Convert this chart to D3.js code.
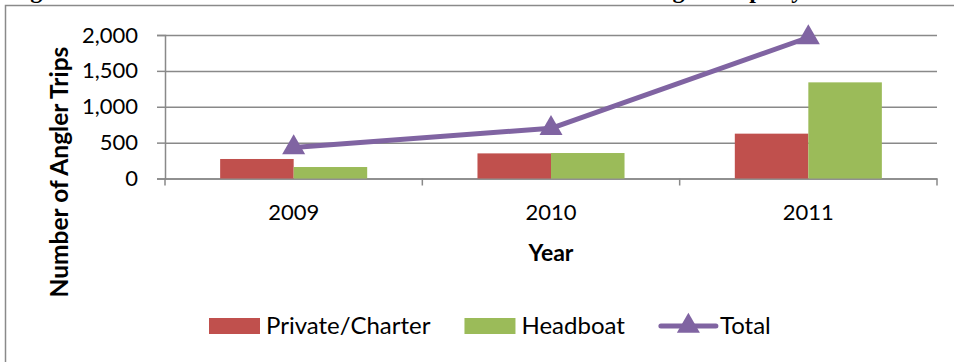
<!DOCTYPE html>
<html>
<head>
<meta charset="utf-8">
<script src="https://cdn.jsdelivr.net/npm/d3@7/dist/d3.min.js"></script>
<style>
    body { margin: 0; background: #ffffff; }
    svg { display: block; }
</style>
</head>
<body>
<script>
    // values
    var years = ["2009", "2010", "2011"];
    var privateCharter = [272, 350, 625];
    var headboat = [160, 355, 1340];
    var total = [432, 700, 1965];
    var seriesNames = ["Private/Charter", "Headboat", "Total"];
    var yTicks = [0, 500, 1000, 1500, 2000];

    var width = 954, height = 362;
    var margin = {"top": 35, "bottom": 183.5, "left": 165, "right": 17};
    var colors = {"Private/Charter": "#C0504D", "Headboat": "#9BBB59", "Total": "#8064A2"};
    var gridColor = "#898989";
    var font = "Lato, 'Open Sans', sans-serif";

    var svg = d3.select("body")
        .append("svg")
        .attr("width", width)
        .attr("height", height);

    // caption line cut off at the top of the picture
    svg.append("text")
        .attr("x", 9)
        .attr("y", -2)
        .text("Figure 4. Estimated Number of Headboat and Charter Sector Angler Trips by Mode")
        .style("font-family", "'Liberation Serif', 'Times New Roman', serif")
        .style("font-weight", "bold")
        .style("font-size", "24px");

    // chart frame
    svg.append("rect")
        .attr("x", 5.5)
        .attr("y", 5.5)
        .attr("width", width + 20)
        .attr("height", height + 20)
        .attr("fill", "none")
        .attr("stroke", "#8a8a8a")
        .attr("stroke-width", 1.5);

    var xScale = d3.scaleBand()
        .domain(years)
        .range([margin.left, width - margin.right]);

    var subScale = d3.scaleBand()
        .domain(["Private/Charter", "Headboat"])
        .range([0, xScale.bandwidth()])
        .paddingOuter(0.75);

    var yScale = d3.scaleLinear()
        .domain([0, 2000])
        .range([height - margin.bottom, margin.top]);

    //gridlines
    var grid = svg.append("g")
        .attr("transform", "translate(" + margin.left + ",0)")
        .call(d3.axisLeft(yScale).tickValues(yTicks).tickSize(-(width - margin.left - margin.right)).tickFormat(""));
    grid.select(".domain").remove();
    grid.selectAll("line")
        .attr("stroke", gridColor)
        .attr("stroke-width", 1.5);

    //y axis
    var yAxis = svg.append("g")
        .attr("transform", "translate(" + margin.left + ",0)")
        .call(d3.axisLeft(yScale).tickValues(yTicks).tickSize(8).tickPadding(19).tickFormat(d3.format(",")));
    yAxis.select(".domain")
        .attr("stroke", gridColor)
        .attr("stroke-width", 1.5);
    yAxis.selectAll("line")
        .attr("stroke", gridColor)
        .attr("stroke-width", 1.5);
    yAxis.selectAll("text")
        .style("font-family", font)
        .style("font-size", "22px")
        .attr("fill", "#000");

    //x axis
    var xAxis = svg.append("g")
        .attr("transform", "translate(0," + yScale(0) + ")")
        .call(d3.axisBottom(xScale).tickSize(0).tickPadding(26));
    xAxis.select(".domain")
        .attr("stroke", gridColor)
        .attr("stroke-width", 1.5);
    xAxis.selectAll("text")
        .style("font-family", font)
        .style("font-size", "22px")
        .attr("fill", "#000");

    var bounds = years.map(d => xScale(d)).concat([xScale.range()[1]]);
    svg.append("g")
        .selectAll("line")
        .data(bounds)
        .enter()
        .append("line")
        .attr("x1", d => d)
        .attr("x2", d => d)
        .attr("y1", yScale(0))
        .attr("y2", yScale(0) + 7)
        .attr("stroke", gridColor)
        .attr("stroke-width", 1.5);

    //bars
    var barData = [];
    years.forEach(function(y, i) {
        barData.push({"year": y, "key": "Private/Charter", "value": privateCharter[i]});
        barData.push({"year": y, "key": "Headboat", "value": headboat[i]});
    });

    svg.append("g")
        .selectAll("rect")
        .data(barData)
        .enter()
        .append("rect")
        .attr("x", d => xScale(d.year) + subScale(d.key))
        .attr("y", d => yScale(d.value))
        .attr("width", subScale.bandwidth())
        .attr("height", d => yScale(0) - yScale(d.value))
        .attr("fill", d => colors[d.key]);

    //total line
    var line = d3.line()
        .x((d, i) => xScale(years[i]) + xScale.bandwidth() / 2)
        .y(d => yScale(d));

    svg.append("path")
        .datum(total)
        .attr("d", line)
        .attr("fill", "none")
        .attr("stroke", colors["Total"])
        .attr("stroke-width", 5)
        .attr("stroke-linejoin", "round");

    var tri = d3.symbol().type(d3.symbolTriangle).size(230);
    svg.append("g")
        .selectAll("path")
        .data(total)
        .enter()
        .append("path")
        .attr("d", tri)
        .attr("transform", (d, i) => "translate(" + (xScale(years[i]) + xScale.bandwidth() / 2) + "," + yScale(d) + ")")
        .attr("fill", colors["Total"]);

    //axis titles
    svg.append("text")
        .attr("transform", "translate(68,172) rotate(-90)")
        .attr("text-anchor", "middle")
        .text("Number of Angler Trips")
        .style("font-family", font)
        .style("font-weight", "bold")
        .style("font-size", "24.5px");

    svg.append("text")
        .attr("x", (margin.left + width - margin.right) / 2)
        .attr("y", 261)
        .attr("text-anchor", "middle")
        .text("Year")
        .style("font-family", font)
        .style("font-weight", "bold")
        .style("font-size", "23px");

    //legend
    var legend = svg.append("g");
    var lx = 209, ly = 318;
    seriesNames.forEach(function(name) {
        var item = legend.append("g").attr("transform", "translate(" + lx + "," + ly + ")");
        if (name == "Total") {
            item.append("line")
                .attr("x1", 2).attr("x2", 57)
                .attr("y1", 8).attr("y2", 8)
                .attr("stroke", colors[name])
                .attr("stroke-width", 5)
                .attr("stroke-linecap", "round");
            item.append("path")
                .attr("d", tri)
                .attr("transform", "translate(29.5,8)")
                .attr("fill", colors[name]);
        } else {
            item.append("rect")
                .attr("width", 51)
                .attr("height", 16)
                .attr("fill", colors[name]);
        }
        var t = item.append("text")
            .attr("x", name == "Total" ? 61 : 57)
            .attr("y", 16)
            .text(name)
            .style("font-family", font)
            .style("font-size", "24px");
        lx += (name == "Total" ? 61 : 57) + t.node().getComputedTextLength() + 34;
    });
</script>
</body>
</html>
